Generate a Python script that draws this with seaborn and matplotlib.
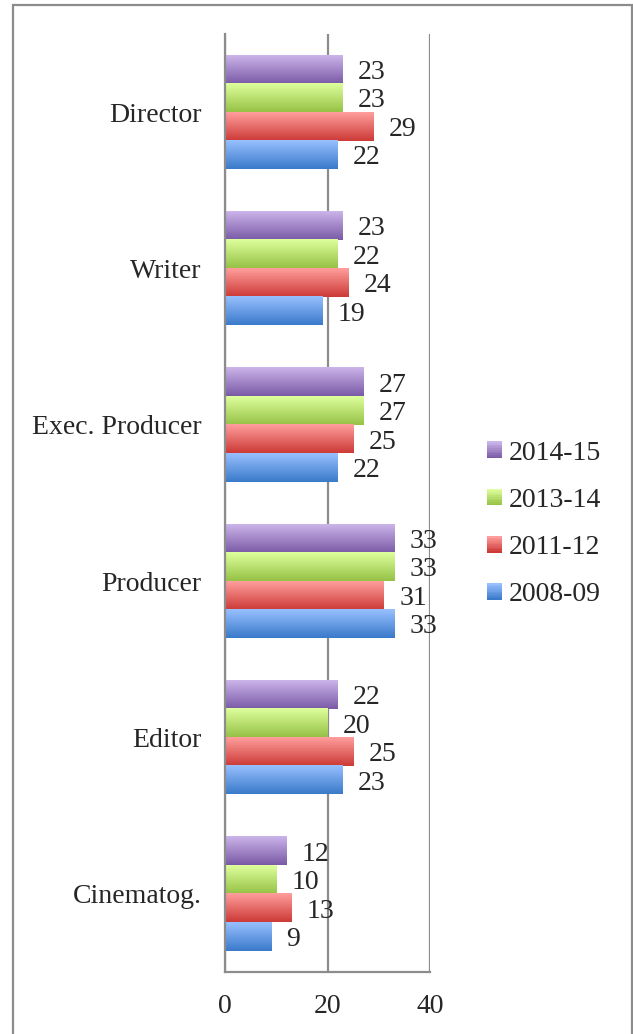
import numpy as np
import pandas as pd
import seaborn as sns
import matplotlib.pyplot as plt
from matplotlib.colors import LinearSegmentedColormap
from matplotlib.patches import Rectangle, Patch
from matplotlib.legend_handler import HandlerBase

roles = ["Director", "Writer", "Exec. Producer", "Producer", "Editor", "Cinematog."]
seasons = ["2014-15", "2013-14", "2011-12", "2008-09"]
v_2014_15 = [23, 23, 27, 33, 22, 12]
v_2013_14 = [23, 22, 27, 33, 20, 10]
v_2011_12 = [29, 24, 25, 31, 25, 13]
v_2008_09 = [22, 19, 22, 33, 23, 9]

# light (top) -> dark (bottom) for the Excel-like gradient
grad = {
    "2014-15": ("#CBB4EA", "#7A5AA6"),
    "2013-14": ("#DEFF9C", "#96C246"),
    "2011-12": ("#FF9E9C", "#CC3A37"),
    "2008-09": ("#98C0FF", "#3A7ACA"),
}
GRAY = "#8C8C8C"
FS = 20

df = pd.DataFrame({
    "role": roles * 4,
    "season": np.repeat(seasons, len(roles)),
    "value": v_2014_15 + v_2013_14 + v_2011_12 + v_2008_09,
})

sns.set_style("white")
plt.rcParams["font.family"] = ["Liberation Serif", "DejaVu Serif"]

fig = plt.figure(figsize=(6.33, 10.34), dpi=100)
ax = fig.add_axes([225 / 633, 62 / 1034, 205 / 633, 938 / 1034])

sns.barplot(
    data=df, y="role", x="value", hue="season",
    order=roles, hue_order=seasons, orient="h",
    palette={s: grad[s][0] for s in seasons}, saturation=1,
    width=0.725, legend=False, ax=ax, linewidth=0,
)

for cont, s in zip(ax.containers, seasons):
    cmap = LinearSegmentedColormap.from_list(s, list(grad[s]))
    for bar in cont:
        x0, y0 = bar.get_x(), bar.get_y()
        w, h = bar.get_width(), bar.get_height()
        bar.set_facecolor("none")
        ax.imshow(np.linspace(0, 1, 64).reshape(-1, 1), cmap=cmap,
                  extent=(x0, x0 + w, y0 + h, y0), origin="upper",
                  aspect="auto", zorder=2)
    for t in ax.bar_label(cont, padding=11, fontsize=FS):
        t.set_va("center_baseline")

ax.set_xlim(0, 40)
ax.set_ylim(5.5, -0.5)
ax.set_xticks([0, 20, 40])
ax.set_yticks(range(len(roles)))
ax.set_yticklabels(roles)
ax.set_yticks(np.arange(-0.5, 6, 1), minor=True)
ax.set_xlabel("")
ax.set_ylabel("")

ax.xaxis.grid(True, color=GRAY, lw=1.6)
ax.set_axisbelow(True)
for side in ["top", "right"]:
    ax.spines[side].set_visible(False)
for side in ["left", "bottom"]:
    ax.spines[side].set_color(GRAY)
    ax.spines[side].set_linewidth(1.6)

ax.tick_params(axis="y", which="major", length=0, pad=17, labelsize=FS)
ax.tick_params(axis="y", which="minor", length=5, width=1.6, color=GRAY, direction="out")
ax.tick_params(axis="x", which="major", length=5, width=1.6, color=GRAY,
               direction="out", pad=11, labelsize=FS)


class GradHandler(HandlerBase):
    def create_artists(self, legend, orig, xd, yd, w, h, fs, trans):
        cols = LinearSegmentedColormap.from_list("", list(orig.grad))(np.linspace(0, 1, 10))
        arts = []
        for i, c in enumerate(cols):
            arts.append(Rectangle((-xd, -yd + h - (i + 1) * h / 10), w, h / 10,
                                  fc=c, ec="none", transform=trans))
        return arts


handles = []
for s in seasons:
    p = Patch()
    p.grad = grad[s]
    handles.append(p)

fig.legend(handles, seasons, loc="center left",
           bbox_to_anchor=(487 / 633, 1 - 524 / 1034),
           frameon=False, fontsize=FS, handlelength=0.55, handleheight=0.55,
           handletextpad=0.25, labelspacing=0.8, borderpad=0, borderaxespad=0,
           handler_map={Patch: GradHandler()})

fig.add_artist(Rectangle((13 / 633, -0.02), 619 / 633, 1.02 - 5 / 1034,
                         transform=fig.transFigure, fill=False, ec=GRAY, lw=1.6))

fig.savefig("out.png", dpi=100)
